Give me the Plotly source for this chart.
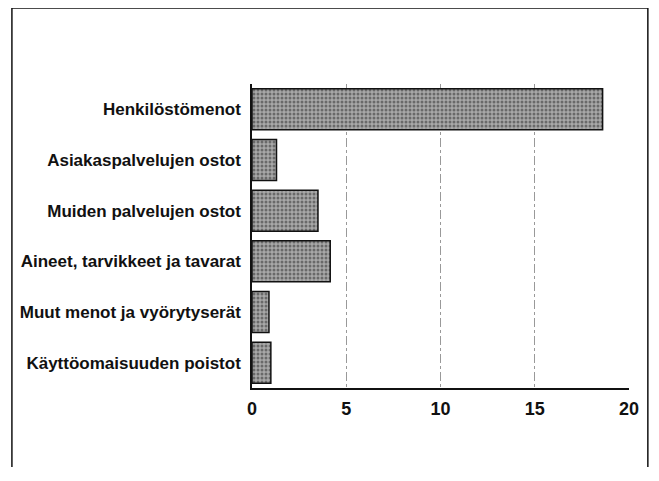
import plotly.graph_objects as go

categories = ["Henkilöstömenot", "Asiakaspalvelujen ostot", "Muiden palvelujen ostot",
              "Aineet, tarvikkeet ja tavarat", "Muut menot ja vyörytyserät",
              "Käyttöomaisuuden poistot"]
values = [18.6, 1.3, 3.5, 4.15, 0.9, 1.0]
x_ticks = [0, 5, 10, 15, 20]

# page has an 8px body margin; figure coordinates are page coordinates minus 8
OFF = 8
W, H = 659 - 2 * OFF, 481 - 2 * OFF - 6
L, R, T, B = 252 - OFF, 632 - OFF, 84 - OFF, 388 - OFF

font_family = "Liberation Sans Narrow, Arial Narrow, Liberation Sans, sans-serif"

fig = go.Figure(go.Bar(
    y=categories, x=values, orientation="h",
    marker=dict(color="#8f8f8f", line=dict(color="#111", width=1.5),
                pattern=dict(shape=".", fgcolor="#2a2a2a", bgcolor="#a8a8a8", size=4, solidity=0.45)),
    width=0.81,
))

fig.update_layout(
    width=W, height=H,
    margin=dict(l=L, r=W - R, t=T, b=H - B, pad=0),
    paper_bgcolor="white", plot_bgcolor="white",
    showlegend=False,
    font=dict(family=font_family, color="#111", size=17, weight="bold"),
)
fig.update_xaxes(range=[0, 20], tickvals=x_ticks, showgrid=True,
                 gridcolor="#999", griddash="dashdot", gridwidth=1,
                 showline=True, linecolor="#111", linewidth=1.5,
                 zeroline=False, ticks="outside", ticklen=4, tickcolor="white",
                 tickfont=dict(size=18, family=font_family, weight="bold"))
fig.update_yaxes(categoryorder="array", categoryarray=categories[::-1],
                 range=[-0.5, 5.5], showline=True, linecolor="#111", linewidth=1.5,
                 showgrid=False, ticks="outside", ticklen=6, tickcolor="white",
                 tickfont=dict(size=17, family=font_family, weight="bold"))

def px(xp):
    return (xp - OFF - L) / (R - L)

def py(yp):
    return (B - (yp - OFF)) / (B - T)

frame = dict(type="line", xref="paper", yref="paper", line=dict(color="#111", width=1.5))
fig.add_shape(**frame, x0=px(10), x1=px(10), y0=py(8), y1=py(500))
fig.add_shape(**frame, x0=px(651), x1=px(651), y0=py(8), y1=py(500))
fig.add_shape(**frame, x0=px(10), x1=px(651), y0=py(8), y1=py(8))

fig.write_html("out.html")
